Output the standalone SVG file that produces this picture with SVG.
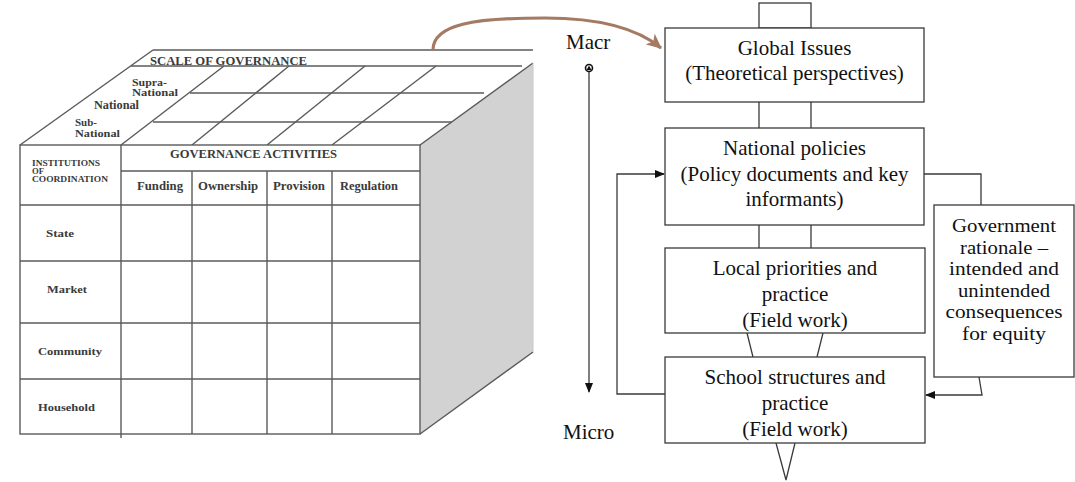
<svg xmlns="http://www.w3.org/2000/svg" width="1075" height="482" viewBox="0 0 1075 482">
<style>
.bg{fill:#ffffff}
.cl{stroke:#5a5a5a;stroke-width:1.4;fill:none}
.tb{font-family:"Liberation Serif",serif;font-weight:bold;fill:#3a3a3a}
.box{fill:#ffffff;stroke:#3a3a3a;stroke-width:1.3}
.ln{stroke:#3a3a3a;stroke-width:1.3;fill:none}
.tx{font-family:"Liberation Serif",serif;font-size:21px;fill:#111111;text-anchor:middle}
.gx{font-family:"Liberation Serif",serif;font-size:18.5px;fill:#111111;text-anchor:middle}
.lb{font-family:"Liberation Serif",serif;font-size:21px;fill:#111111}
</style>
<defs>
<marker id="ah" markerWidth="10" markerHeight="8" refX="9" refY="4" orient="auto" markerUnits="userSpaceOnUse">
<path d="M0,0 L10,4 L0,8 Z" fill="#111111"/>
</marker>
<marker id="bh" markerWidth="16" markerHeight="14" refX="14" refY="7" orient="auto" markerUnits="userSpaceOnUse">
<path d="M0,0 L15,7 L0,14 L4,7 Z" fill="#a57a63"/>
</marker>
</defs>
<rect class="bg" x="0" y="0" width="1075" height="482"/>

<g id="cube">
<polygon points="420,145 533,63 533,352 420,434" fill="#d2d2d2" stroke="none"/>
<line class="cl" x1="420" y1="145" x2="533" y2="63"/>
<line class="cl" x1="420" y1="434" x2="533" y2="352"/>
<line x1="533" y1="63" x2="533" y2="352" stroke="#c8c8c8" stroke-width="1"/>
<line class="cl" x1="20" y1="145" x2="153" y2="50"/>
<line class="cl" x1="153" y1="50" x2="533" y2="50"/>
<line class="cl" x1="131" y1="66" x2="522" y2="66"/>
<line class="cl" x1="190" y1="93" x2="484" y2="93"/>
<line class="cl" x1="153" y1="122" x2="452" y2="122"/>
<line class="cl" x1="121" y1="145" x2="224" y2="66"/>
<line class="cl" x1="192" y1="145" x2="289" y2="66"/>
<line class="cl" x1="267" y1="145" x2="365" y2="66"/>
<line class="cl" x1="332" y1="145" x2="436" y2="66"/>
<rect x="20" y="145" width="400" height="289" fill="#ffffff" stroke="#5a5a5a" stroke-width="1.4"/>
<line class="cl" x1="121" y1="145" x2="121" y2="438"/>
<line class="cl" x1="121" y1="171" x2="420" y2="171"/>
<line class="cl" x1="20" y1="205" x2="420" y2="205"/>
<line class="cl" x1="192" y1="171" x2="192" y2="434"/>
<line class="cl" x1="267" y1="171" x2="267" y2="434"/>
<line class="cl" x1="332" y1="171" x2="332" y2="434"/>
<line class="cl" x1="20" y1="261" x2="420" y2="261"/>
<line class="cl" x1="20" y1="323" x2="420" y2="323"/>
<line class="cl" x1="20" y1="379" x2="420" y2="379"/>
<text class="tb" x="150" y="65" font-size="12" textLength="157" lengthAdjust="spacingAndGlyphs">SCALE OF GOVERNANCE</text>
<text class="tb" x="132" y="86" font-size="11" textLength="35" lengthAdjust="spacingAndGlyphs">Supra-</text>
<text class="tb" x="132" y="96" font-size="11" textLength="46" lengthAdjust="spacingAndGlyphs">National</text>
<text class="tb" x="94" y="109" font-size="11.5" textLength="45" lengthAdjust="spacingAndGlyphs">National</text>
<text class="tb" x="75" y="126" font-size="11">Sub-</text>
<text class="tb" x="75" y="137" font-size="11" textLength="45" lengthAdjust="spacingAndGlyphs">National</text>
<text class="tb" x="170" y="158" font-size="12" textLength="167" lengthAdjust="spacingAndGlyphs">GOVERNANCE ACTIVITIES</text>
<text class="tb" x="32" y="166" font-size="7.5" textLength="68" lengthAdjust="spacingAndGlyphs">INSTITUTIONS</text>
<text class="tb" x="32" y="174" font-size="7.5" textLength="12" lengthAdjust="spacingAndGlyphs">OF</text>
<text class="tb" x="32" y="182" font-size="7.5" textLength="76" lengthAdjust="spacingAndGlyphs">COORDINATION</text>
<text class="tb" x="137" y="190" font-size="11.5" textLength="46" lengthAdjust="spacingAndGlyphs">Funding</text>
<text class="tb" x="198" y="190" font-size="11.5" textLength="60" lengthAdjust="spacingAndGlyphs">Ownership</text>
<text class="tb" x="273" y="190" font-size="11.5" textLength="52" lengthAdjust="spacingAndGlyphs">Provision</text>
<text class="tb" x="340" y="190" font-size="11.5" textLength="58" lengthAdjust="spacingAndGlyphs">Regulation</text>
<text class="tb" x="46" y="237" font-size="11" textLength="28" lengthAdjust="spacingAndGlyphs">State</text>
<text class="tb" x="47" y="293" font-size="11" textLength="40" lengthAdjust="spacingAndGlyphs">Market</text>
<text class="tb" x="38" y="355" font-size="11" textLength="64" lengthAdjust="spacingAndGlyphs">Community</text>
<text class="tb" x="38" y="411" font-size="11" textLength="57" lengthAdjust="spacingAndGlyphs">Household</text>
</g>

<g id="connectors">
<path d="M433,50 C433,24 475,18 545,18 C600,18 637,28 661,48" fill="none" stroke="#a57a63" stroke-width="3.2" marker-end="url(#bh)"/>
<rect x="759" y="3" width="52" height="25" class="ln"/>
<line class="ln" x1="759" y1="102" x2="759" y2="128"/>
<line class="ln" x1="811" y1="102" x2="811" y2="128"/>
<line class="ln" x1="759" y1="225" x2="759" y2="248"/>
<line class="ln" x1="811" y1="225" x2="811" y2="248"/>
<line class="ln" x1="747" y1="333" x2="753" y2="357"/>
<line class="ln" x1="823" y1="333" x2="817" y2="357"/>
<polyline class="ln" points="776,443 786,480 795,443"/>
<polyline class="ln" points="665,394 617,394 617,174 664,174" marker-end="url(#ah)"/>
<polyline class="ln" points="924,174 981,174 981,205"/>
<polyline class="ln" points="979,377 982,395 926,395" marker-end="url(#ah)"/>
<line class="ln" x1="589" y1="72" x2="589" y2="392" marker-end="url(#ah)"/>
<circle cx="589" cy="68" r="3.5" fill="#ffffff" stroke="#111111" stroke-width="1.6"/>
<path d="M586.5,70 L589,65.5 L591.5,70 Z" fill="#111111"/>
</g>

<g id="labels">
<text class="lb" x="566" y="49">Macr</text>
<text class="lb" x="563" y="439">Micro</text>
</g>

<g id="global">
<rect class="box" x="665" y="28" width="259" height="74"/>
<text class="tx" x="794.5" y="55">Global Issues</text>
<text class="tx" x="794.5" y="80">(Theoretical perspectives)</text>
</g>

<g id="national">
<rect class="box" x="665" y="128" width="259" height="97"/>
<text class="tx" x="794.5" y="155">National policies</text>
<text class="tx" x="794.5" y="181">(Policy documents and key</text>
<text class="tx" x="794.5" y="206">informants)</text>
</g>

<g id="local">
<rect class="box" x="665" y="248" width="260" height="85"/>
<text class="tx" x="795" y="275">Local priorities and</text>
<text class="tx" x="795" y="301">practice</text>
<text class="tx" x="795" y="327">(Field work)</text>
</g>

<g id="school">
<rect class="box" x="665" y="357" width="260" height="86"/>
<text class="tx" x="795" y="384">School structures and</text>
<text class="tx" x="795" y="410">practice</text>
<text class="tx" x="795" y="436">(Field work)</text>
</g>

<g id="government">
<rect class="box" x="934" y="205" width="140" height="172"/>
<text class="gx" x="1004" y="232" textLength="104" lengthAdjust="spacingAndGlyphs">Government</text>
<text class="gx" x="1004" y="253.5" textLength="88" lengthAdjust="spacingAndGlyphs">rationale –</text>
<text class="gx" x="1004" y="275" textLength="110" lengthAdjust="spacingAndGlyphs">intended and</text>
<text class="gx" x="1004" y="296.5" textLength="92" lengthAdjust="spacingAndGlyphs">unintended</text>
<text class="gx" x="1004" y="318" textLength="117" lengthAdjust="spacingAndGlyphs">consequences</text>
<text class="gx" x="1004" y="339.5" textLength="84" lengthAdjust="spacingAndGlyphs">for equity</text>
</g>
</svg>
